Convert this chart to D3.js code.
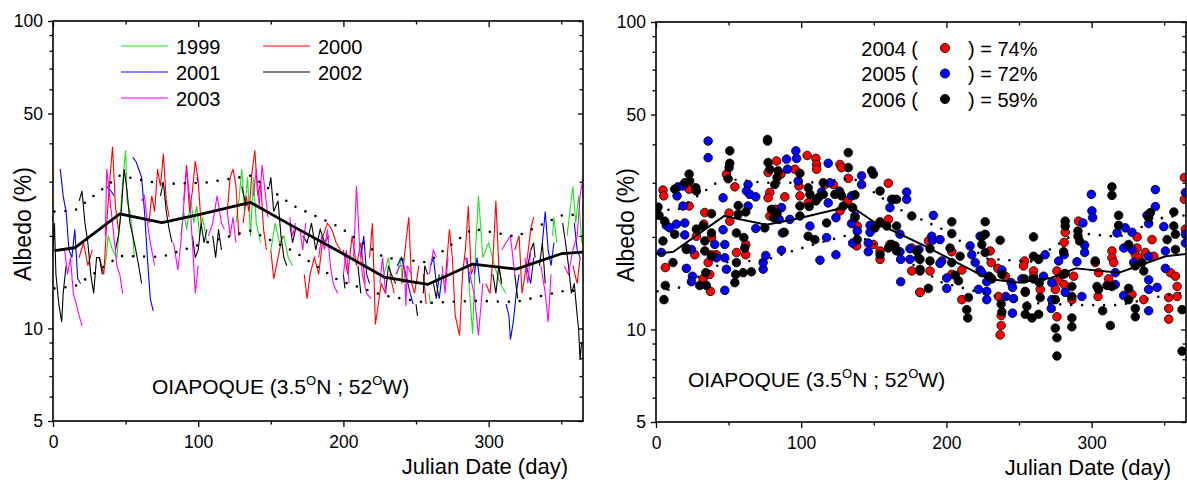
<!DOCTYPE html>
<html>
<head>
<meta charset="utf-8">
<script src="https://cdn.jsdelivr.net/npm/d3@7"></script>
<style>
  body { margin: 0; background: #fff; }
  svg { display: block; font-family: Arial, "Liberation Sans", sans-serif; }
</style>
</head>
<body>
<div id="chart-area"></div>
<script>
/*
*  Surface albedo at Oiapoque, daily values per year (left)
*  and scatter of 2004-2006 (right) on a log albedo axis
*/

// ---- left panel: daily albedo lines, one array of segments per year ----
var y1999 = [
  [[36,16],[38,20],[41,18],[44,17],[46,22],[48,30],[50,38],[51,26],[53,24],[55,20],[56,17]],
  [[88,20],[90,24],[92,21],[95,26],[97,22],[99,25],[101,20],[103,23],[106,19]],
  [[126,22],[128,26],[130,33],[132,24],[134,31],[136,20],[138,31],[140,22],[143,19]],
  [[150,18],[153,22],[156,19],[159,20],[162,17],[165,16]],
  [[228,15],[231,17],[233,14]],
  [[237,15],[239,17],[241,14],[243,15]],
  [[259,13],[260,12]],
  [[286,15],[289,9.6],[291,18],[293,27],[296,17],[300,19],[304,16],[308,14],[312,13]],
  [[344,20],[345,23],[347,19]],
  [[354,20],[356,24],[358,29],[360,22],[362,27],[364,19]]
];
var y2000 = [
  [[18,17],[21,19],[24,16],[27,18]],
  [[32,17],[35,15],[37,22],[39,30],[41,39],[43,25],[45,21]],
  [[66,22],[68,27],[70,24],[72,33],[74,29],[76,37],[78,26],[80,23]],
  [[90,26],[92,34],[94,24],[96,28],[98,35],[100,30],[102,22]],
  [[120,24],[122,31],[124,33],[126,29],[128,20]],
  [[131,22],[133,27],[135,24],[137,32],[139,38],[141,27],[143,30],[145,21],[147,18]],
  [[150,18],[152,14.5],[155,17],[158,20]],
  [[173,15],[175,12.5],[177,15],[180,17],[183,15],[186,20],[189,22],[192,21],[195,19],[198,18]],
  [[200,18],[203,15],[206,20],[209,16],[212,19],[215,14]],
  [[218,17],[220,22],[222,10.3],[224,12],[226,14],[229,13]],
  [[232,15],[235,13]],
  [[240,14],[243,19],[245,23],[247,14],[249,13],[252,16]],
  [[255,15],[257,12]],
  [[270,14],[273,21],[275,17],[277,11],[280,9.5],[282,15],[284,18],[286,25],[288,15],[290,16]],
  [[298,14],[301,13],[303,17],[305,26],[307,16],[309,14]],
  [[318,18],[321,20],[323,13],[326,16],[329,21],[331,23]],
  [[358,16],[361,14],[363,17]]
];
var y2001 = [
  [[5,33],[7,27],[9,24],[11,18],[13,17],[15,21],[17,14.5],[19,14]],
  [[37,29],[40,28],[42,27]],
  [[55,36],[57,35],[59,33],[61,31],[63,24],[65,17],[67,12.5],[69,11.4]],
  [[99,31],[100,30]],
  [[212,17],[214,20],[216,15],[218,14]],
  [[237,16],[240,17],[243,15],[246,13],[248,12]],
  [[260,16],[262,17],[264,14],[266,12.5],[268,15]],
  [[285,17],[287,14]],
  [[290,15],[292,17],[294,14]],
  [[312,12],[314,11],[315,9.2],[317,10.5],[319,13],[321,15]],
  [[326,16],[329,14],[331,17]],
  [[337,19],[339,24],[341,18],[343,16],[345,19]],
  [[359,22],[361,18],[363,17]]
];
var y2002 = [
  [[0,18],[1,22],[2,15],[4,12],[6,10.5],[7,13],[9,16]],
  [[18,26],[20,28],[22,22],[24,19],[26,15],[28,13],[30,17],[32,17],[34,15]],
  [[43,18],[45,20],[47,24],[49,33],[51,28],[53,22],[55,20],[57,18],[59,16],[61,14]],
  [[74,27],[76,30],[78,24],[80,21],[82,19]],
  [[96,20],[98,17],[100,18],[102,22],[104,19],[106,21]],
  [[110,20],[112,17],[114,21],[116,18]],
  [[130,29],[133,25]],
  [[149,29],[150,31],[152,24],[155,26],[157,20],[159,17],[161,16]],
  [[163,22],[165,19],[167,21]],
  [[172,20],[175,19],[178,22],[181,18],[184,21],[187,19],[190,20]],
  [[200,15],[201,13.5]],
  [[210,16],[212,13]],
  [[229,13],[231,16],[233,15],[236,14]],
  [[250,12],[251,11]],
  [[255,13],[256,16],[258,15]],
  [[262,14],[264,12.5],[266,15]],
  [[303,15],[305,13],[307,16],[309,14]],
  [[318,15],[320,12.5]],
  [[327,16],[329,18],[331,19],[332,17]],
  [[335,16],[337,19],[339,14]],
  [[351,22],[353,19],[355,16],[357,13],[359,14],[361,11],[362,9.9],[363,7.9],[364,9]]
];
var y2003 = [
  [[8,18],[10,15],[12,17],[14,13],[16,12],[18,11],[20,10.2]],
  [[36,20],[37,33],[39,27],[41,22],[44,16],[46,15],[48,13]],
  [[61,26],[63,27],[65,22],[67,19],[70,16]],
  [[83,19],[86,15.5],[88,19],[90,25],[92,33],[94,27],[96,19],[98,13],[100,16]],
  [[107,20],[110,22],[113,27],[116,22],[118,21]],
  [[120,24],[122,20],[124,23],[126,19]],
  [[138,27],[140,33],[142,25],[144,34],[146,28],[148,23]],
  [[163,23],[165,20],[167,22]],
  [[170,21],[172,18],[174,22]],
  [[183,17],[185,20],[187,18],[189,21],[191,16],[193,14],[196,13]],
  [[200,15],[202,18],[204,14]],
  [[207,17],[209,29],[211,19],[213,15],[216,13],[219,12.5]],
  [[225,14],[227,17],[229,13]],
  [[236,15],[239,16],[242,16],[243,11.8],[244,16],[247,15]],
  [[259,15],[262,18],[264,17]],
  [[268,16],[270,13],[272,17]],
  [[284,17],[287,15],[290,13],[293,9.5],[296,14]],
  [[309,18],[312,19],[315,20],[318,15]],
  [[325,17],[327,14],[329,18]],
  [[336,16],[339,13],[341,10.5],[343,15]],
  [[352,16],[355,15],[358,18],[361,20],[363,27],[365,31]]
];
var lineYears = ['1999', '2000', '2001', '2002', '2003'];
var lineColors = ['#1ee01e', '#ff0000', '#0000ff', '#000000', '#ff00ff'];

// monthly mean and spread, left panel
var envDaysL = [1, 15, 46, 75, 105, 136, 166, 197, 228, 258, 289, 319, 350, 365];
var meanL = [17.9, 18.3, 23.6, 22.1, 23.7, 25.7, 21.4, 17.8, 14.7, 13.9, 16.2, 15.6, 17.5, 17.7];
var upperL = [24.0, 24.2, 31.4, 29.5, 29.8, 31.4, 25.0, 21.4, 17.0, 16.4, 21.1, 19.9, 23.3, 23.5];
var lowerL = [13.5, 13.7, 17.2, 17.1, 19.0, 20.8, 17.8, 14.3, 12.8, 12.1, 12.3, 12.2, 13.2, 13.3];

// ---- right panel: scatter of single observations ----
var s2004 = [
  [4.8,28.4],[5.3,27.2],[6.4,15.9],[22.8,28.6],[22.8,25.2],[26.7,17.5],[27.8,20.1],[32.9,22.0],
  [33.6,24.0],[38.2,19.9],[35.9,16.5],[41.6,17.5],[38.2,17.5],[32.4,14.6],[37,15.1],[37.5,13.3],
  [55.4,17.8],[61.8,17.5],[61.8,18.9],[50.3,23.9],[50.8,22.5],[48.5,32],[54.3,29.1],[77.2,32.4],
  [83,35.3],[78.4,27.9],[77.2,26.8],[86,32],[78.4,23.4],[82.3,24.6],[88.7,27],[95.6,33.2],
  [98.4,29.3],[99.1,27.2],[104.1,36.8],[110.1,36],[110.6,34.4],[110.6,33.2],[104.8,25.8],[116.3,29.6],
  [122.1,29.6],[126.7,34.4],[127.8,33.6],[132.4,31],[132,26.2],[126.7,24.3],[138.6,21.7],[137,18.9],
  [138.2,18.7],[160,29.9],[154.3,22.4],[160,22.8],[149.7,18.9],[154.3,18],[154.3,16.9],[161.1,18.9],
  [176.1,18.4],[176.1,15.5],[181.8,13.2],
  [187.6,19.4],[188.7,15.5],[181.8,13.2],[203.7,17.9],[210.6,15.6],[203.7,15.1],[210.6,12.5],[230.1,18],
  [230.8,16.5],[235.4,15.8],[240.5,14.9],[235.9,12.8],[237.7,11.1],[237.7,10.3],[237,9.6],[254.3,13.2],
  [253.8,16.7],[253.1,16.1],[260,15.5],[260,14.9],[264.6,13.5],[276.1,11.0],[275,13.5],[277.3,14.4],
  [276.1,15.5],[281.8,20.7],[281.1,19.2],[281.1,14],[287.6,14.9],[286.4,12.5],[291,22.5],[302.5,16.5],
  [304.8,15.3],[304.4,12.8],[311.7,14.6],[314,18],[314,17.1],[315.2,16.5],[331.3,20],[331.3,18.4],
  [330.1,17.5],[332.4,17.1],[337,17.8],[342.8,17.3],[341.6,19.6],[327.8,13],[335.9,12.5],[354.3,15.3],
  [353.1,12.7],[353.1,11.7],[353.1,10.8],[358.9,12.8],[357.7,14.9],[358.9,13.8],[363.9,31.2],[363.9,26.5],
  [364.6,21.2]
];
var s2005 = [
  [7.1,21.8],[15.2,29.1],[14.5,27.2],[18.6,29.3],[18.6,25.2],[14,22],[19.8,22.2],[19.8,20.3],
  [9.4,21.4],[20.9,18.4],[24.4,18.2],[3.7,17.8],[40.5,18.9],[47.4,18.9],[41.6,17.1],[47.4,17.1],
  [20.9,15.8],[25.1,14.9],[24.4,14.3],[48.5,15.7],[47.4,13.4],[73.8,15.7],[73.8,16.5],[75.6,17.4],
  [46.2,21.1],[46.2,26.8],[35.9,41],[35.9,36.2],[63.4,29.6],[62.3,28.2],[64.6,27.5],[68.7,27],
  [63.4,25.2],[68.7,21.3],[84.8,22.8],[86.4,24.9],[87.1,20.6],[86.4,18.1],[89.9,35.8],[90.6,33.2],
  [96.3,38.1],[96.8,36],[97.9,30.4],[92.2,22.8],[106,21.7],[118.6,34.7],[112.9,16.8],[114,28],
  [118.6,25.8],[117.5,19.9],[119.8,30],[123.9,23.1],[123.9,17.5],[134.7,27.2],[137,23.4],[134.7,22.1],
  [138.6,20.9],[135.4,19.1],[141.6,31.6],[141.6,29.6],[147.4,21.8],[147.4,20.7],[162.3,26.5],[161.1,24.9],
  [168,20.4],[146.2,19.1],[146.2,17.9],[168,17.9],[168.5,16.9],[168.5,14.3],[172.6,28],[172.6,26.5],
  [174.9,18.3],[174.9,16.9],[181.1,18.2],[126.2,28.2],
  [191,23.5],[189.9,20.1],[190.4,19.5],[195.6,19.6],[196.8,16.7],[195.6,16.4],[200.2,14.7],[200.2,13.6],
  [216.3,18.7],[217.5,17.5],[219.8,16.5],[223.2,15.6],[223.2,20.1],[227.8,14.3],[227.8,13.3],[227.8,12.5],
  [222.1,13.5],[224.4,15.3],[238.2,15.6],[240.9,12.8],[244.6,14.2],[245.5,13.7],[245.5,11.3],[246.2,12.6],
  [252,14.6],[266.9,14.9],[268,17.5],[272.6,14.2],[272.6,12.5],[272.2,11.7],[277.3,16.7],[281.1,17.5],
  [281.8,13.2],[294,22.2],[295.2,18.8],[295.2,17.8],[289.9,16.6],[293.3,12.8],[299.8,27.5],[300.2,24.3],
  [300.7,23.1],[316.3,15.3],[317.5,20.6],[316.3,14],[323.2,21.4],[327.8,20.7],[322.1,18.4],[327.8,18.2],
  [329,16.5],[339.3,17.3],[339.3,14.5],[345.1,13.7],[322.1,12.9],[339.3,13.5],[338.2,23.5],[339.3,22.1],
  [343.9,28.5],[343.9,25.1],[349.7,21.6],[350.8,18],[350.8,15.8],[339.3,11.5],[364.6,27.9],[364.6,20.4],
  [364.6,19.1]
];
var s2006 = [
  [1.4,25],[2.1,23.5],[6,22.5],[6.4,13.9],[5.5,12.5],[4.8,19.4],[11.7,16.5],[12.9,28.6],
  [19.8,30],[22.8,32],[23.2,30.4],[27.4,28.9],[27.8,28.2],[12.9,20.4],[20.9,18.2],[27.8,21.2],
  [32.4,21.7],[33.6,19.4],[38.2,23.8],[38.2,20.6],[33.6,18],[38.2,17.3],[30.1,13.9],[34.7,13.9],
  [34.3,15.3],[54.3,14.2],[54.9,15.1],[60,15.3],[65.7,15.4],[55.4,16.5],[61.1,18.4],[60.5,19.9],
  [55.4,20.6],[56.6,25.3],[56.6,23.7],[61.8,24.1],[49.7,30.9],[50.8,34.7],[50.3,33.6],[50.8,38.1],
  [74.9,21.4],[76.8,41.5],[76.8,41],[77.2,34.9],[78.4,33.2],[84.1,32.8],[81.8,29.6],[83.4,31.2],
  [79.5,24.6],[81.1,23.1],[83.4,23.9],[88.3,20.7],[99.1,32.2],[99.1,25.2],[99.1,23.4],[104.8,28.9],
  [106,27.5],[105.5,25.1],[104.8,20.1],[109.4,19.6],[110.1,26.2],[111.7,26.8],[115.2,30],[115.2,27.5],
  [123.2,27.5],[126.7,27.9],[132.4,37.6],[132.4,33.6],[127.8,27.2],[137,27.4],[129,25.2],[135.4,24.9],
  [137,23.1],[138.6,19.6],[148.5,32.8],[149.7,32],[154.3,28.2],[150.8,21.4],[154.3,22.2],[158.9,21.7],
  [163.4,26.5],[165.7,26.5],[165.7,21.7],[162.3,18.9],[154.3,17.5],[160,18.4],[164.6,18.7],[165.7,18],
  [176.1,23.4],[179.5,18],[180.7,17.1],[181.8,15.5],[117.5,22.2],
  [181.8,16.9],[181.8,15.7],[188.7,18.3],[188.7,16.7],[187.6,13.6],[203.7,22.4],[203.7,20.5],[202.5,18.4],
  [209.4,17.3],[203.7,16.5],[206,15],[208.3,14.4],[215.2,12.7],[214,11.6],[214.7,10.9],[224.4,18.9],
  [224.8,20.1],[226.7,20.4],[226.7,22.4],[226.7,17.8],[229.4,14.9],[231.3,14.6],[238.2,15.1],[237,19.5],
  [237.7,12.1],[238.2,11.4],[253.8,14.6],[254.3,13.3],[255.4,11.9],[254.3,11.2],[258.9,10.9],[260,20],
  [260,17.3],[263.5,16.9],[260,14.6],[264,14.2],[264.6,12.7],[263.5,11.2],[275,12.5],[275,10.1],
  [276.1,9.4],[276.1,8.2],[281.8,22.5],[281.8,21.7],[280.7,17.9],[281.8,15.2],[280.2,15.1],[286.4,13.8],
  [286.4,12.8],[286.4,10.9],[286.4,10.2],[290.6,20.9],[290.6,20.1],[291.7,19.4],[302.5,16.7],[303.7,13.8],
  [304.8,13.5],[307.6,11.5],[312.9,10.3],[310.6,13.9],[314,13.8],[314,29.1],[314,27.3],[318.6,23.5],
  [318.6,21.8],[325.5,18.9],[330.1,16.1],[335.9,15.5],[334.7,16.5],[325.5,13.6],[325.5,12.5],[330.1,11.7],
  [330.1,11],[340.5,24],[339.3,23.1],[352,19.6],[356.6,24.1],[356.6,21.7],[357.7,20.4],[357.7,18.2],
  [362.3,11.6],[362.3,8.5]
];
var dotYears = ['2004', '2005', '2006'];
var dotColors = ['#ff0000', '#0000ff', '#000000'];
var dotShares = ['74%', '72%', '59%'];

// mean and spread, right panel
var meanDaysR = [0, 12, 47, 76, 97, 134, 150, 184, 229, 250, 272, 289, 319, 351, 365];
var meanR = [17.6, 17.9, 23.4, 21.9, 22.9, 25.2, 22.4, 18.8, 14.6, 14.2, 14.7, 15.8, 15.3, 17.3, 17.6];
var envDaysR = [1, 15, 46, 75, 105, 136, 166, 197, 228, 258, 289, 319, 350, 365];
var upperR = [24.5, 24.5, 31.0, 30.0, 30.0, 31.0, 24.8, 21.2, 17.0, 16.6, 20.6, 20.0, 23.2, 23.5];
var lowerR = [13.3, 13.6, 16.5, 16.8, 18.7, 20.5, 17.5, 14.2, 13.0, 12.2, 12.0, 12.0, 12.9, 13.2];

// axis ticks
var xMajor = [0, 100, 200, 300];
var xMinor = [50, 150, 250, 350];
var yMajor = [5, 10, 50, 100];
var yMinor = [6, 7, 8, 9, 20, 30, 40, 60, 70, 80, 90];

var svg = d3.select('#chart-area')
  .append('svg')
    .attr('width', 1187)
    .attr('height', 480);

function zip(days, vals) {
  return days.map((d, i) => [d, vals[i]]);
}

// builds one framed panel and hands back its scales and plot group
function makePanel(id, left, right, top, bottom) {
  var w = right - left, h = bottom - top;
  var g = svg.append('g').attr('transform', `translate(${left}, ${top})`);

  var x = d3.scaleLinear().domain([0, 365]).range([0, w]);
  var y = d3.scaleLog().domain([5, 100]).range([h, 0]);

  svg.append('clipPath').attr('id', id)
    .append('rect').attr('width', w).attr('height', h);

  var plot = g.append('g').attr('clip-path', `url(#${id})`);

  // bottom axis, ticks out
  g.append('g').attr('class', 'x axis')
    .attr('transform', `translate(0, ${h})`)
    .call(d3.axisBottom(x).tickValues(xMajor).tickSize(6).tickSizeOuter(0).tickPadding(9));
  g.append('g').attr('class', 'x minor')
    .attr('transform', `translate(0, ${h})`)
    .call(d3.axisBottom(x).tickValues(xMinor).tickSize(3.5).tickSizeOuter(0).tickFormat(''));
  // top axis, ticks in
  g.append('g').call(d3.axisBottom(x).tickValues(xMajor).tickSize(6).tickSizeOuter(0).tickFormat(''));
  g.append('g').call(d3.axisBottom(x).tickValues(xMinor).tickSize(3.5).tickSizeOuter(0).tickFormat(''));

  // left axis, ticks out
  g.append('g').attr('class', 'y axis')
    .call(d3.axisLeft(y).tickValues(yMajor).tickSize(5).tickSizeOuter(0).tickPadding(5)
      .tickFormat(d3.format('d')));
  g.append('g')
    .call(d3.axisLeft(y).tickValues(yMinor).tickSize(3.5).tickSizeOuter(0).tickFormat(''));
  // right axis, ticks in
  g.append('g').attr('transform', `translate(${w}, 0)`)
    .call(d3.axisLeft(y).tickValues(yMajor).tickSize(5).tickSizeOuter(0).tickFormat(''));
  g.append('g').attr('transform', `translate(${w}, 0)`)
    .call(d3.axisLeft(y).tickValues(yMinor).tickSize(3.5).tickSizeOuter(0).tickFormat(''));

  g.selectAll('.domain').remove();
  g.selectAll('.tick line').attr('stroke', '#000').attr('stroke-width', 1.3);
  g.selectAll('.tick text').attr('font-size', '17.5px').attr('fill', '#000')
    .attr('font-family', 'Arial, "Liberation Sans", sans-serif');

  g.append('rect')
    .attr('width', w).attr('height', h)
    .attr('fill', 'none').attr('stroke', '#000').attr('stroke-width', 1.6);

  // axis titles
  g.append('text')
    .attr('x', w - 15)
    .attr('y', h + 53)
    .attr('font-size', '22px')
    .attr('text-anchor', 'end')
    .text('Julian Date (day)');

  g.append('text')
    .attr('x', -(h / 2) - 3)
    .attr('y', -22)
    .attr('font-size', '23px')
    .attr('text-anchor', 'middle')
    .attr('transform', 'rotate(-90)')
    .text('Albedo (%)');

  return { g: g, plot: plot, x: x, y: y, w: w, h: h };
}

function stationLabel(p, lx, ly) {
  var t = p.g.append('text')
    .attr('x', lx).attr('y', ly)
    .attr('font-size', '21px');
  t.append('tspan').text('OIAPOQUE (3.5');
  t.append('tspan').attr('font-size', '13px').attr('dy', -9).text('O');
  t.append('tspan').attr('dy', 9).text('N ; 52');
  t.append('tspan').attr('font-size', '13px').attr('dy', -9).text('O');
  t.append('tspan').attr('dy', 9).text('W)');
}

function spreadLines(p, days, mean, upper, lower, meanDays, meanWidth) {
  var line = d3.line().x(d => p.x(d[0])).y(d => p.y(d[1]));
  [upper, lower].forEach(function (vals) {
    p.plot.append('path')
      .datum(zip(days, vals))
      .attr('d', line)
      .attr('fill', 'none')
      .attr('stroke', '#000')
      .attr('stroke-width', 2.6)
      .attr('stroke-linecap', 'round')
      .attr('stroke-dasharray', '0,11');
  });
  p.plot.append('path')
    .datum(zip(meanDays, mean))
    .attr('d', line)
    .attr('fill', 'none')
    .attr('stroke', '#000')
    .attr('stroke-width', meanWidth)
    .attr('stroke-linejoin', 'round');
}

// ---------- left panel ----------
var pL = makePanel('clipL', 53, 583, 21, 421);
var lineGen = d3.line().x(d => pL.x(d[0])).y(d => pL.y(d[1]));

[y1999, y2000, y2001, y2002, y2003].forEach(function (segs, i) {
  pL.plot.append('g')
    .selectAll('path')
    .data(segs)
    .enter()
    .append('path')
      .attr('d', lineGen)
      .attr('fill', 'none')
      .attr('stroke', lineColors[i])
      .attr('stroke-width', 1.1);
});

spreadLines(pL, envDaysL, meanL, upperL, lowerL, envDaysL, 2.8);

// legend for the yearly lines
lineYears.forEach(function (yr, i) {
  var col = i % 2, row = Math.floor(i / 2);
  var lx = [68, 210][col];
  var ly = 25 + row * 26;
  pL.g.append('line')
    .attr('x1', lx).attr('x2', lx + 47)
    .attr('y1', ly).attr('y2', ly)
    .attr('stroke', lineColors[i]).attr('stroke-width', 1.2);
  pL.g.append('text')
    .attr('x', lx + 55).attr('y', ly + 7.5)
    .attr('font-size', '20px')
    .text(yr);
});

stationLabel(pL, 99, 373);

// ---------- right panel ----------
var pR = makePanel('clipR', 656, 1186, 22, 422);

[s2004, s2005, s2006].forEach(function (pts, i) {
  pR.plot.append('g')
    .selectAll('circle')
    .data(pts)
    .enter()
    .append('circle')
      .attr('cx', d => pR.x(d[0]))
      .attr('cy', d => pR.y(d[1]))
      .attr('r', 4.3)
      .attr('fill', dotColors[i])
      .attr('stroke', '#000')
      .attr('stroke-width', 0.8);
});

spreadLines(pR, envDaysR, meanR, upperR, lowerR, meanDaysR, 2);

// legend for the scatter years
dotYears.forEach(function (yr, i) {
  var ly = 26 + i * 25.5;
  pR.g.append('text')
    .attr('x', 262).attr('y', ly + 7.5)
    .attr('text-anchor', 'end')
    .attr('font-size', '20px')
    .text(yr + ' (');
  pR.g.append('circle')
    .attr('cx', 289).attr('cy', ly)
    .attr('r', 4.6)
    .attr('fill', dotColors[i])
    .attr('stroke', '#000').attr('stroke-width', 0.8);
  pR.g.append('text')
    .attr('x', 312).attr('y', ly + 7.5)
    .attr('font-size', '20px')
    .text(') = ' + dotShares[i]);
});

stationLabel(pR, 32, 365);
</script>
</body>
</html>
